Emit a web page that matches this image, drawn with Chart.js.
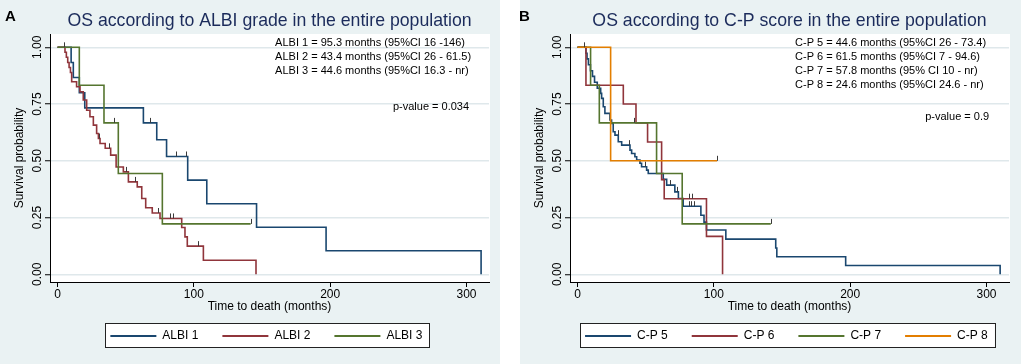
<!DOCTYPE html>
<html>
<head>
<meta charset="utf-8">
<script src="https://cdn.jsdelivr.net/npm/chart.js@4.4.0/dist/chart.umd.min.js"></script>
<style>
  body { margin: 0; background: #fff; }
  #wrap { position: relative; width: 1021px; height: 364px; }
  canvas { position: absolute; top: 0; }
  .lab { position: absolute; top: 7px; line-height: 15px; font: bold 15px "Liberation Sans", Arial, sans-serif; color: #000; }
</style>
</head>
<body>
<div id="wrap">
  <canvas id="chartA" width="500" height="364" style="left:0"></canvas>
  <canvas id="chartB" width="501" height="364" style="left:520px"></canvas>
  <div class="lab" style="left:5px">A</div>
  <div class="lab" style="left:519px">B</div>
</div>
<script>
// axes
const xTicks = [0, 100, 200, 300];
const yTicks = [0, 0.25, 0.5, 0.75, 1];

// panel A : ALBI grade
const albiLabels = ['ALBI 1', 'ALBI 2', 'ALBI 3'];
const albi1Time = [0, 10, 11.6, 16, 20, 63, 72.8, 80, 95.5, 109.5, 146, 197, 310.7];
const albi1Surv = [1, 0.933, 0.867, 0.8, 0.733, 0.667, 0.593, 0.519, 0.415, 0.311, 0.207, 0.104, 0];
const albi1Cens = [68, 86.7, 94];
const albi2Time = [0, 5.5, 6.5, 7.5, 8.5, 9.5, 10.4, 14, 16.5, 18.9, 21.4, 23.8, 26.3, 28.7, 30, 31.2, 35, 39, 43, 48.3, 52, 58.5, 61.8, 64.7, 69.5, 75.2, 91.1, 93.5, 95.2, 107, 145.6];
const albi2Surv = [1, 0.978, 0.956, 0.933, 0.911, 0.889, 0.848, 0.826, 0.804, 0.768, 0.723, 0.694, 0.657, 0.62, 0.598, 0.576, 0.555, 0.525, 0.473, 0.451, 0.407, 0.385, 0.334, 0.293, 0.27, 0.246, 0.206, 0.165, 0.124, 0.062, 0];
const albi2Cens = [4.8, 30.6, 38, 50.5, 57, 73.5, 82.5, 84.5, 102.8];
const albi3Time = [0, 16, 34.1, 44.6, 76.9, 141.7];
const albi3Surv = [1, 0.833, 0.667, 0.444, 0.222, 0.222];
const albi3Cens = [41.5, 141.7];
const albiNotes = ['ALBI 1 = 95.3 months (95%CI 16 -146)', 'ALBI 2 = 43.4 months (95%CI 26 - 61.5)', 'ALBI 3 = 44.6 months (95%CI 16.3 - nr)'];
const albiP = 'p-value = 0.034';

// panel B : C-P score
const cpLabels = ['C-P 5', 'C-P 6', 'C-P 7', 'C-P 8'];
const cp5Time = [0, 6.2, 7, 8, 9.5, 11, 12.5, 14.5, 17, 17.7, 18.9, 20.1, 23.8, 25, 26.2, 27.5, 29.9, 32.4, 38.5, 39.7, 42.1, 43.4, 45.8, 47, 50.7, 51.9, 62.9, 65.4, 71.4, 74, 77.5, 90.5, 92.8, 94.6, 108.8, 145.4, 146.2, 196.7, 310];
const cp5Surv = [1, 0.974, 0.949, 0.923, 0.897, 0.872, 0.846, 0.82, 0.797, 0.775, 0.738, 0.709, 0.68, 0.665, 0.628, 0.613, 0.584, 0.569, 0.547, 0.532, 0.518, 0.503, 0.489, 0.474, 0.459, 0.444, 0.418, 0.393, 0.363, 0.334, 0.3, 0.26, 0.23, 0.195, 0.155, 0.116, 0.077, 0.039, 0];
const cp5Cens = [4.8, 29.5, 38, 49.4, 67.8, 73, 81.5, 83.5, 85.5];
const cp6Time = [0, 6.2, 33.6, 42.9, 51.4, 61.7, 63.6, 94.6, 106.4];
const cp6Surv = [1, 0.833, 0.75, 0.667, 0.583, 0.417, 0.333, 0.167, 0];
const cp6Cens = [82, 84];
const cp7Time = [0, 9.6, 16, 58, 76.8, 141.8];
const cp7Surv = [1, 0.833, 0.667, 0.444, 0.222, 0.222];
const cp7Cens = [41.4, 141.8];
const cp8Time = [0, 24.3, 102.4];
const cp8Surv = [1, 0.5, 0.5];
const cp8Cens = [102.4];
const cpNotes = ['C-P 5 = 44.6 months (95%CI 26 - 73.4)', 'C-P 6 = 61.5 months (95%CI 7 - 94.6)', 'C-P 7 = 57.8 months (95% CI 10 - nr)', 'C-P 8 = 24.6 months (95%CI 24.6 - nr)'];
const cpP = 'p-value = 0.9';

const lineColors = ['#1a476f', '#90353b', '#55752f', '#e37e00'];
const bgColor = '#eaf2f3';
const gridColor = '#dfe8eb';
const fontFamily = '"Liberation Sans", Arial, Helvetica, sans-serif';

Chart.defaults.font.family = fontFamily;
Chart.defaults.color = '#000';

// valeur de survie au moment d'une censure
function survAt(points, c) {
    let s = points[0].y;
    for (const p of points) {
        if (p.x <= c) s = p.y;
    }
    return s;
}

function makeDatasets(labels, times, survs, cens) {
    return labels.map((lab, i) => ({
        label: lab,
        data: times[i].map((t, j) => ({x: t, y: survs[i][j]})),
        censor: cens[i],
        borderColor: lineColors[i],
        backgroundColor: lineColors[i],
        borderWidth: 1.6,
        pointRadius: 0,
        pointHoverRadius: 0,
        stepped: 'before',
        fill: false,
        order: labels.length - i
    }));
}

const kmPlugin = {
    id: 'km',
    afterLayout(chart) {
        // légende pleine largeur (pas de retour à la ligne), recentrée sous la zone de tracé
        const lg = chart.legend;
        lg.left = chart.chartArea.left - 12;
        lg.right = chart.chartArea.right + 5.8;
    },
    beforeDraw(chart) {
        const ctx = chart.ctx;
        const a = chart.chartArea;
        ctx.save();
        ctx.fillStyle = bgColor;
        ctx.fillRect(0, 0, chart.width, chart.height);
        ctx.fillStyle = '#fff';
        ctx.fillRect(a.left, a.top, a.right - a.left + 1, a.bottom - a.top);
        // cadre de la légende
        const hb = chart.legend.legendHitBoxes;
        if (hb && hb.length) {
            const last = hb[hb.length - 1];
            const x0 = hb[0].left - 5;
            const x1 = last.left + last.width + 7;
            const y0 = hb[0].top - 7;
            ctx.fillStyle = '#fff';
            ctx.fillRect(x0, y0, x1 - x0, 24);
            ctx.strokeStyle = '#222';
            ctx.lineWidth = 1;
            ctx.strokeRect(Math.round(x0) + 0.5, Math.round(y0) + 0.5, Math.round(x1 - x0), 24);
        }
        ctx.restore();
    },
    afterDatasetsDraw(chart) {
        const ctx = chart.ctx;
        const xs = chart.scales.x, ys = chart.scales.y;
        ctx.save();
        ctx.strokeStyle = '#3a3a3a';
        ctx.lineWidth = 1;
        chart.data.datasets.forEach(ds => {
            ds.censor.forEach(c => {
                const px = Math.round(xs.getPixelForValue(c)) + 0.5;
                const py = ys.getPixelForValue(survAt(ds.data, c));
                ctx.beginPath();
                ctx.moveTo(px, py);
                ctx.lineTo(px, py - 5);
                ctx.stroke();
            });
        });
        ctx.restore();
    },
    afterDraw(chart, args, opts) {
        const ctx = chart.ctx;
        const xs = chart.scales.x, ys = chart.scales.y;
        ctx.save();
        ctx.fillStyle = '#000';
        ctx.font = '11px ' + fontFamily;
        ctx.textBaseline = 'middle';
        ctx.textAlign = 'left';
        const nx = xs.getPixelForValue(opts.noteX);
        const ny = ys.getPixelForValue(opts.noteY);
        opts.lines.forEach((l, i) => ctx.fillText(l, nx, ny + i * 14));
        ctx.textAlign = 'right';
        ctx.fillText(opts.pText, xs.getPixelForValue(opts.pX), ys.getPixelForValue(opts.pY));
        ctx.restore();
    }
};

function makeChart(id, title, datasets, notes, pText, pY, padRight) {
    return new Chart(document.getElementById(id), {
        type: 'line',
        data: {datasets: datasets},
        plugins: [kmPlugin],
        options: {
            responsive: false,
            animation: false,
            events: [],
            layout: {padding: {left: 0, right: padRight, top: 0, bottom: 12}},
            scales: {
                x: {
                    type: 'linear',
                    min: -5.5,
                    max: 316.5,
                    afterBuildTicks: s => { s.ticks = xTicks.map(v => ({value: v})); },
                    afterFit: s => { s.height = 24; },
                    grid: {drawOnChartArea: false, drawTicks: true, tickLength: 5, tickColor: '#000', tickWidth: 1},
                    border: {display: true, color: '#000', width: 1},
                    ticks: {color: '#000', font: {size: 12}, padding: 0.3, maxRotation: 0, minRotation: 0, autoSkip: false},
                    title: {display: true, text: 'Time to death (months)', color: '#000', font: {size: 12}, padding: {top: 0, bottom: -7.6}}
                },
                y: {
                    type: 'linear',
                    min: -0.034,
                    max: 1.0587,
                    afterBuildTicks: s => { s.ticks = yTicks.map(v => ({value: v})); },
                    afterFit: s => { s.width = 50; },
                    grid: {color: gridColor, lineWidth: 1.5, drawTicks: true, tickLength: 5, tickColor: '#000', tickWidth: 1},
                    border: {display: true, color: '#000', width: 1},
                    ticks: {
                        color: '#000', font: {size: 12}, minRotation: 90, maxRotation: 90,
                        crossAlign: 'center', padding: -4.2, autoSkip: false,
                        callback: v => v.toFixed(2)
                    },
                    title: {display: true, text: 'Survival probability', color: '#000', font: {size: 12}, padding: {top: 12.8, bottom: 0}}
                }
            },
            plugins: {
                title: {
                    display: true, text: title, fullSize: false, color: '#1b2b5b',
                    font: {size: 17.7, weight: 'normal'}, padding: {top: 10.9, bottom: 1.86}
                },
                legend: {
                    display: true, position: 'bottom', fullSize: true,
                    labels: {
                        boxWidth: 46, boxHeight: 2, padding: 24, color: '#000', font: {size: 12},
                        generateLabels: chart => chart.data.datasets.map((d, i) => ({
                            text: d.label, fillStyle: d.borderColor, strokeStyle: d.borderColor,
                            lineWidth: 0, hidden: false, datasetIndex: i
                        }))
                    }
                },
                tooltip: {enabled: false},
                km: {lines: notes, noteX: 159.6, noteY: 1.02, pText: pText, pX: 301.9, pY: pY}
            }
        }
    });
}

makeChart('chartA', 'OS according to ALBI grade in the entire population',
    makeDatasets(albiLabels, [albi1Time, albi2Time, albi3Time], [albi1Surv, albi2Surv, albi3Surv], [albi1Cens, albi2Cens, albi3Cens]),
    albiNotes, albiP, 0.739, 11);

makeChart('chartB', 'OS according to C-P score in the entire population',
    makeDatasets(cpLabels, [cp5Time, cp6Time, cp7Time, cp8Time], [cp5Surv, cp6Surv, cp7Surv, cp8Surv], [cp5Cens, cp6Cens, cp7Cens, cp8Cens]),
    cpNotes, cpP, 0.693, 12);
</script>
</body>
</html>
